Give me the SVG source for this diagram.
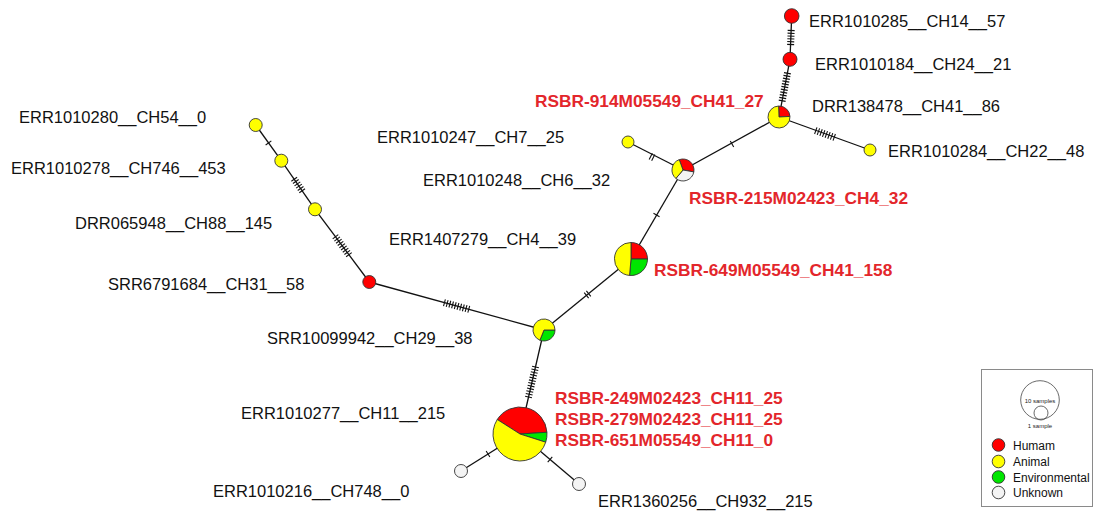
<svg xmlns="http://www.w3.org/2000/svg" width="1101" height="514" viewBox="0 0 1101 514">
  <style>
    .edge { stroke: #111; stroke-width: 1.3; fill: none; }
    .hash path { stroke: #111; stroke-width: 1.1; fill: none; }
    .node { stroke: #333; stroke-width: 0.9; }
    .hum { fill: #ff0000; }
    .ani { fill: #ffff00; }
    .env { fill: #00e600; }
    .unk { fill: #f4f4f4; }
    .lbl { font-family: "Liberation Sans", Arial, sans-serif; font-size: 16.5px; fill: #111; }
    .red { font-family: "Liberation Sans", Arial, sans-serif; font-size: 17.3px; font-weight: bold; fill: #e3262b; }
    .leg { font-family: "Liberation Sans", Arial, sans-serif; font-size: 12px; fill: #111; }
    .tiny { font-family: "Liberation Sans", Arial, sans-serif; font-size: 6px; fill: #222; }
  </style>
  <defs>
    <!-- mutation tick groups, centred on the edge midpoint, edge along local x -->
    <g id="h1" class="hash"><path d="M0,-3.5V3.5"/></g>
    <g id="h2" class="hash"><path d="M-1.4,-3.5V3.5M1.4,-3.5V3.5"/></g>
    <g id="h6" class="hash"><path d="M-7,-3.5V3.5M-4.2,-3.5V3.5M-1.4,-3.5V3.5M1.4,-3.5V3.5M4.2,-3.5V3.5M7,-3.5V3.5"/></g>
    <g id="h8" class="hash"><path d="M-9.8,-3.5V3.5M-7,-3.5V3.5M-4.2,-3.5V3.5M-1.4,-3.5V3.5M1.4,-3.5V3.5M4.2,-3.5V3.5M7,-3.5V3.5M9.8,-3.5V3.5"/></g>
    <g id="h9" class="hash"><path d="M-11.2,-3.5V3.5M-8.4,-3.5V3.5M-5.6,-3.5V3.5M-2.8,-3.5V3.5M0,-3.5V3.5M2.8,-3.5V3.5M5.6,-3.5V3.5M8.4,-3.5V3.5M11.2,-3.5V3.5"/></g>
    <g id="h10" class="hash"><path d="M-12.6,-3.5V3.5M-9.8,-3.5V3.5M-7,-3.5V3.5M-4.2,-3.5V3.5M-1.4,-3.5V3.5M1.4,-3.5V3.5M4.2,-3.5V3.5M7,-3.5V3.5M9.8,-3.5V3.5M12.6,-3.5V3.5"/></g>
    <g id="h11" class="hash"><path d="M-14,-3.5V3.5M-11.2,-3.5V3.5M-8.4,-3.5V3.5M-5.6,-3.5V3.5M-2.8,-3.5V3.5M0,-3.5V3.5M2.8,-3.5V3.5M5.6,-3.5V3.5M8.4,-3.5V3.5M11.2,-3.5V3.5M14,-3.5V3.5"/></g>
    <g id="h12" class="hash"><path d="M-15.4,-3.5V3.5M-12.6,-3.5V3.5M-9.8,-3.5V3.5M-7,-3.5V3.5M-4.2,-3.5V3.5M-1.4,-3.5V3.5M1.4,-3.5V3.5M4.2,-3.5V3.5M7,-3.5V3.5M9.8,-3.5V3.5M12.6,-3.5V3.5M15.4,-3.5V3.5"/></g>
  </defs>

  <rect width="1101" height="514" fill="#ffffff"/>

  <!-- connectors -->
  <g id="connectors">
    <path class="edge" d="M255.7,125L281.3,160.7"/>
    <use href="#h1" transform="translate(268.5,142.9) rotate(54.4)"/>
    <path class="edge" d="M281.3,160.7L315,209.3"/>
    <use href="#h6" transform="translate(298.2,185) rotate(55.3)"/>
    <path class="edge" d="M315,209.3L369.3,282"/>
    <use href="#h9" transform="translate(342.2,245.7) rotate(53.2)"/>
    <path class="edge" d="M369.3,282L544,330"/>
    <use href="#h10" transform="translate(456.6,306) rotate(15.4)"/>
    <path class="edge" d="M544,330L520,434"/>
    <use href="#h12" transform="translate(532,382) rotate(103)"/>
    <path class="edge" d="M544,330L631,259"/>
    <use href="#h2" transform="translate(587.5,294.5) rotate(-39.2)"/>
    <path class="edge" d="M520,434L461,471"/>
    <use href="#h1" transform="translate(488,454) rotate(147.9)"/>
    <path class="edge" d="M520,434L579,484"/>
    <use href="#h1" transform="translate(550,459.5) rotate(40.3)"/>
    <path class="edge" d="M631,259L683,170"/>
    <use href="#h1" transform="translate(656.5,215) rotate(-59.7)"/>
    <path class="edge" d="M683,170L628,142"/>
    <use href="#h2" transform="translate(652,157) rotate(27)"/>
    <path class="edge" d="M683,170L779,117"/>
    <use href="#h1" transform="translate(732,144) rotate(-28.9)"/>
    <path class="edge" d="M779,117L870,150"/>
    <use href="#h8" transform="translate(825,134) rotate(19.9)"/>
    <path class="edge" d="M779,117L790,59.3"/>
    <use href="#h11" transform="translate(784.8,87) rotate(-79.2)"/>
    <path class="edge" d="M790,59.3L791.7,15.7"/>
    <use href="#h6" transform="translate(790.9,37.5) rotate(-87.8)"/>
  </g>

  <!-- haplotype nodes -->
  <g id="n-ERR1010280">
    <circle class="node ani" cx="255.7" cy="125" r="6.5"/>
    <text class="lbl" x="19" y="123">ERR1010280__CH54__0</text>
  </g>
  <g id="n-ERR1010278">
    <circle class="node ani" cx="281.3" cy="160.7" r="6.5"/>
    <text class="lbl" x="11" y="174">ERR1010278__CH746__453</text>
  </g>
  <g id="n-DRR065948">
    <circle class="node ani" cx="315" cy="209.3" r="6.5"/>
    <text class="lbl" x="75" y="229">DRR065948__CH88__145</text>
  </g>
  <g id="n-SRR6791684">
    <circle class="node hum" cx="369.3" cy="282" r="6.5"/>
    <text class="lbl" x="108" y="290">SRR6791684__CH31__58</text>
  </g>
  <g id="n-SRR10099942">
    <path class="node env" d="M544,330L555,330A11,11 0 0 1 539.9,340.2Z"/>
    <path class="node ani" d="M544,330L539.9,340.2A11,11 0 1 1 555,330Z"/>
    <text class="lbl" x="267" y="344">SRR10099942__CH29__38</text>
  </g>
  <g id="n-CH11">
    <path class="node hum" d="M520,434L497.23,419.49A27,27 0 0 1 546.94,432.26Z"/>
    <path class="node env" d="M520,434L546.94,432.26A27,27 0 0 1 545.72,442.21Z"/>
    <path class="node ani" d="M520,434L545.72,442.21A27,27 0 1 1 497.23,419.49Z"/>
    <text class="lbl" x="241" y="419">ERR1010277__CH11__215</text>
    <text class="red" x="555" y="404">RSBR-249M02423_CH11_25</text>
    <text class="red" x="555" y="425">RSBR-279M02423_CH11_25</text>
    <text class="red" x="555" y="446">RSBR-651M05549_CH11_0</text>
  </g>
  <g id="n-ERR1010216">
    <circle class="node unk" cx="461" cy="471" r="6.5"/>
    <text class="lbl" x="213" y="497">ERR1010216__CH748__0</text>
  </g>
  <g id="n-ERR1360256">
    <circle class="node unk" cx="579" cy="484" r="6.5"/>
    <text class="lbl" x="598" y="507">ERR1360256__CH932__215</text>
  </g>
  <g id="n-CH41-158">
    <path class="node hum" d="M631,259L631,242.5A16.5,16.5 0 0 1 647.5,259Z"/>
    <path class="node env" d="M631,259L647.5,259A16.5,16.5 0 0 1 629.56,275.44Z"/>
    <path class="node ani" d="M631,259L629.56,275.44A16.5,16.5 0 0 1 631,242.5Z"/>
    <text class="lbl" x="389" y="245">ERR1407279__CH4__39</text>
    <text class="red" x="654" y="276">RSBR-649M05549_CH41_158</text>
  </g>
  <g id="n-CH4-32">
    <path class="node hum" d="M683,170L679.24,159.66A11,11 0 0 1 693.83,171.91Z"/>
    <path class="node unk" d="M683,170L693.83,171.91A11,11 0 0 1 675.93,178.43Z"/>
    <path class="node ani" d="M683,170L675.93,178.43A11,11 0 0 1 679.24,159.66Z"/>
    <text class="lbl" x="423" y="186">ERR1010248__CH6__32</text>
    <text class="red" x="689" y="204">RSBR-215M02423_CH4_32</text>
  </g>
  <g id="n-ERR1010247">
    <circle class="node ani" cx="628" cy="142" r="6"/>
    <text class="lbl" x="377" y="143">ERR1010247__CH7__25</text>
  </g>
  <g id="n-CH41-86">
    <path class="node hum" d="M779,117L778.62,106.01A11,11 0 0 1 789.98,116.42Z"/>
    <path class="node ani" d="M779,117L789.98,116.42A11,11 0 1 1 778.62,106.01Z"/>
    <text class="lbl" x="812" y="112">DRR138478__CH41__86</text>
    <text class="red" x="535" y="107">RSBR-914M05549_CH41_27</text>
  </g>
  <g id="n-ERR1010284">
    <circle class="node ani" cx="870" cy="150" r="6"/>
    <text class="lbl" x="888" y="157">ERR1010284__CH22__48</text>
  </g>
  <g id="n-ERR1010184">
    <circle class="node hum" cx="790" cy="59.3" r="7"/>
    <text class="lbl" x="815" y="70">ERR1010184__CH24__21</text>
  </g>
  <g id="n-ERR1010285">
    <circle class="node hum" cx="791.7" cy="16" r="7.3"/>
    <text class="lbl" x="809" y="27">ERR1010285__CH14__57</text>
  </g>

  <!-- legend -->
  <g id="legend">
    <rect x="981.5" y="369.5" width="111" height="137" fill="#ffffff" stroke="#8a8a8a" stroke-width="1"/>
    <circle cx="1040" cy="400" r="19.3" fill="none" stroke="#444" stroke-width="0.8"/>
    <circle cx="1041" cy="413" r="7" fill="none" stroke="#444" stroke-width="0.8"/>
    <text class="tiny" x="1040" y="403" text-anchor="middle">10 samples</text>
    <text class="tiny" x="1040" y="428" text-anchor="middle">1 sample</text>
    <circle class="node hum" cx="998.5" cy="445" r="6.3"/>
    <circle class="node ani" cx="998.5" cy="461.5" r="6.3"/>
    <circle class="node env" cx="998.5" cy="477" r="6.3"/>
    <circle class="node unk" cx="998.5" cy="492.5" r="6.3"/>
    <text class="leg" x="1013" y="449.5">Humam</text>
    <text class="leg" x="1013" y="466">Animal</text>
    <text class="leg" x="1013" y="481.5">Environmental</text>
    <text class="leg" x="1013" y="497">Unknown</text>
  </g>
</svg>
